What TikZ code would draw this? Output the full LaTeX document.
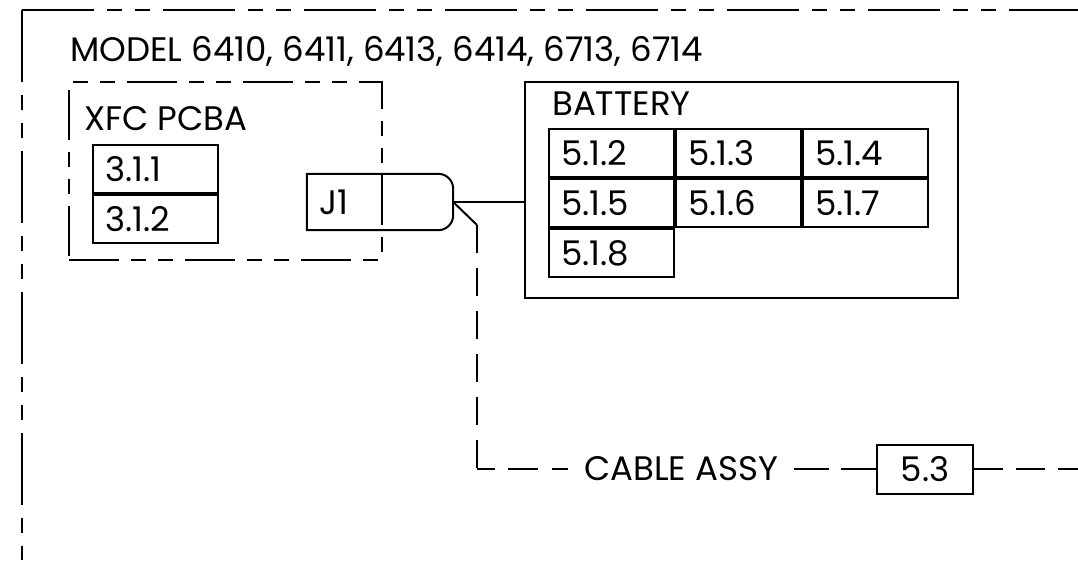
\documentclass[tikz,border=0pt]{standalone}
\usepackage{fontspec}
\setmainfont{Poppins}
\usepackage{tikz}
\usetikzlibrary{positioning}

\begin{document}
\begin{tikzpicture}[x=1pt, y=-1pt,
        every node/.style={font=\fontsize{34}{40}\selectfont},
        wire/.style={line width=2pt},
        frame/.style={wire, dash pattern=on 72pt off 13pt on 15pt off 13pt on 15pt off 13pt},
        board/.style={rectangle, draw, wire, dash pattern=on 50pt off 12pt on 15pt off 12pt on 15pt off 12pt, minimum width=313pt, minimum height=178pt},
        pack/.style={rectangle, draw, wire, minimum width=433pt, minimum height=216pt},
        cell/.style={rectangle, draw, wire, minimum height=48pt, text width=101pt, inner xsep=12pt, align=left},
        conn/.style={rectangle, minimum width=146pt, minimum height=56pt, text width=122pt, inner xsep=12pt, align=left},
        lbl/.style={anchor=base west, inner sep=0pt}
    ]
        \useasboundingbox (0,0) rectangle (1078,560);

        % ================= OUTER FRAME =================
        \draw[frame] (22,10) -- (1078,10);
        \draw[frame] (22,10) -- (22,560);
        \node[lbl] (model) at (70,61) {MODEL 6410, 6411, 6413, 6414, 6713, 6714};

        % ================= XFC PCBA =================
        \node[board] (xfc) at (225.5,171) {};
        \node[lbl] (xfclbl) at (84,130) {XFC PCBA};
        \node[cell] (p311) at (155.5,169) {3.1.1};
        \node[cell, below=0pt of p311] (p312) {3.1.2};

        \node[conn] (j1) at (380,202) {J1};
        \draw[wire] (j1.south west) -- (j1.north west) -- ([xshift=-15pt]j1.north east)
            arc[start angle=90, end angle=0, radius=15pt] -- ([yshift=15pt]j1.south east)
            arc[start angle=0, end angle=-90, radius=15pt] -- cycle;

        % ================= BATTERY =================
        \node[pack] (batt) at (741.5,190) {};
        \node[lbl] (battlbl) at (552,115) {BATTERY};
        \node[cell] (c512) at (611.5,153) {5.1.2};
        \node[cell, right=0pt of c512] (c513) {5.1.3};
        \node[cell, right=0pt of c513] (c514) {5.1.4};
        \node[cell, below=0pt of c512] (c515) {5.1.5};
        \node[cell, right=0pt of c515] (c516) {5.1.6};
        \node[cell, right=0pt of c516] (c517) {5.1.7};
        \node[cell, below=0pt of c515] (c518) {5.1.8};

        \draw[wire] (j1.east) -- (j1.east -| batt.west);

        % ================= CABLE =================
        \coordinate (bend) at (477,225);
        \coordinate (corner) at (477,469);
        \coordinate (cend) at (1078,469);
        \node[inner xsep=16pt, inner ysep=0pt] (cable) at (681,469) {CABLE ASSY};
        \node[rectangle, draw, wire, minimum width=96pt, minimum height=49pt] (p53) at (925,469) {5.3};

        \draw[wire] (j1.east) -- (bend);
        \draw[wire, dash pattern=on 28pt off 15pt] (bend) -- (corner);
        \draw[wire, dash pattern=on 18pt off 13pt on 30pt off 14pt on 16pt off 40pt] (corner) -- (cable.west);
        \draw[wire, dash pattern=on 35pt off 12pt] (cable.east) -- (p53.west);
        \draw[wire, dash pattern=on 29pt off 13pt] (p53.east) -- (cend);
    \end{tikzpicture}
\end{document}
